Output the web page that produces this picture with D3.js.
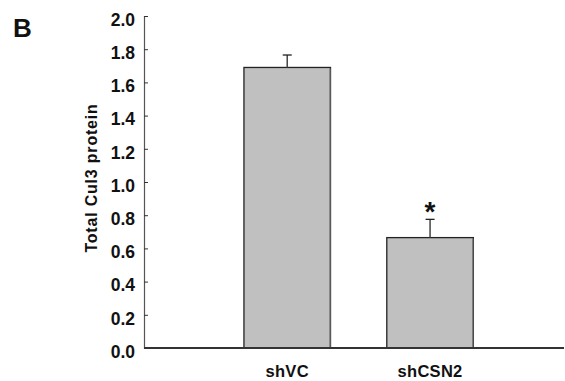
<!DOCTYPE html>
<html>
<head>
<meta charset="utf-8">
<script src="https://cdn.jsdelivr.net/npm/d3@7"></script>
<style>
  body { margin: 0; background: #fff; }
  text { font-family: "Liberation Sans", Arial, sans-serif; font-weight: bold; fill: #111; }
</style>
</head>
<body>
<div id="chart"></div>
<script>
// data
var categories = ["shVC", "shCSN2"];
var means = [1.69, 0.665];
var errors = [0.075, 0.11];
var marks = ["", "*"];
var yTicks = [0.0, 0.2, 0.4, 0.6, 0.8, 1.0, 1.2, 1.4, 1.6, 1.8, 2.0];

var width = 565, height = 381;
var svg = d3.select("#chart").append("svg")
  .attr("width", width)
  .attr("height", height);

var y = d3.scaleLinear().domain([0, 2]).range([348, 16]);
var x = d3.scaleBand()
  .domain(categories)
  .range([215.8, 501.5])
  .paddingInner(0.394)
  .paddingOuter(0.197);

// panel letter
svg.append("text")
  .attr("x", 13).attr("y", 37)
  .style("font-size", "26px")
  .text("B");

// y axis
var yAxis = svg.append("g")
  .attr("transform", "translate(144,0)")
  .call(d3.axisRight(y).tickValues(yTicks).tickSize(4).tickFormat(d3.format(".1f")));
yAxis.select(".domain").attr("stroke", "#555").attr("stroke-width", 1.2);
yAxis.selectAll(".tick line").attr("stroke", "#333");
yAxis.selectAll(".tick text")
  .attr("x", -9)
  .attr("dy", "0.53em")
  .attr("text-anchor", "end")
  .style("font-size", "17.5px")
  .attr("fill", "#111");

svg.append("text")
  .attr("transform", "translate(97,178) rotate(-90)")
  .attr("text-anchor", "middle")
  .style("font-size", "16px")
  .style("letter-spacing", "0.8px")
  .text("Total Cul3 protein");

// bars
svg.selectAll(".bar")
  .data(categories)
  .enter().append("rect")
  .attr("class", "bar")
  .attr("x", function(d) { return x(d); })
  .attr("y", function(d, i) { return y(means[i]); })
  .attr("width", x.bandwidth())
  .attr("height", function(d, i) { return y(0) - y(means[i]); })
  .attr("fill", "#c0c0c0")
  .attr("stroke", "#222")
  .attr("stroke-width", 1.3);

// bar shadow on right side
svg.selectAll(".shade")
  .data(categories)
  .enter().append("line")
  .attr("x1", function(d) { return x(d) + x.bandwidth() - 0.5; })
  .attr("x2", function(d) { return x(d) + x.bandwidth() - 0.5; })
  .attr("y1", function(d, i) { return y(means[i]) + 1; })
  .attr("y2", y(0))
  .attr("stroke", "#777")
  .attr("stroke-width", 1.3);

// error bars
var eb = svg.selectAll(".err")
  .data(categories)
  .enter().append("g");
eb.append("line")
  .attr("x1", function(d) { return x(d) + x.bandwidth() / 2; })
  .attr("x2", function(d) { return x(d) + x.bandwidth() / 2; })
  .attr("y1", function(d, i) { return y(means[i]); })
  .attr("y2", function(d, i) { return y(means[i] + errors[i]); })
  .attr("stroke", "#444")
  .attr("stroke-width", 1.5);
eb.append("line")
  .attr("x1", function(d) { return x(d) + x.bandwidth() / 2 - 4.5; })
  .attr("x2", function(d) { return x(d) + x.bandwidth() / 2 + 4.5; })
  .attr("y1", function(d, i) { return y(means[i] + errors[i]); })
  .attr("y2", function(d, i) { return y(means[i] + errors[i]); })
  .attr("stroke", "#222")
  .attr("stroke-width", 1.3);

// significance marks
svg.selectAll(".mark")
  .data(categories)
  .enter().append("text")
  .attr("x", function(d) { return x(d) + x.bandwidth() / 2; })
  .attr("y", function(d, i) { return y(means[i] + errors[i]) + 2; })
  .attr("text-anchor", "middle")
  .style("font-size", "28px")
  .text(function(d, i) { return marks[i]; });

// x axis
svg.append("line")
  .attr("x1", 144).attr("x2", 564)
  .attr("y1", y(0)).attr("y2", y(0))
  .attr("stroke", "#333")
  .attr("stroke-width", 2);

svg.selectAll(".xlab")
  .data(categories)
  .enter().append("text")
  .attr("x", function(d) { return x(d) + x.bandwidth() / 2; })
  .attr("y", 376.5)
  .attr("text-anchor", "middle")
  .style("font-size", "16.5px")
  .style("letter-spacing", "0.3px")
  .text(function(d) { return d; });
</script>
</body>
</html>
